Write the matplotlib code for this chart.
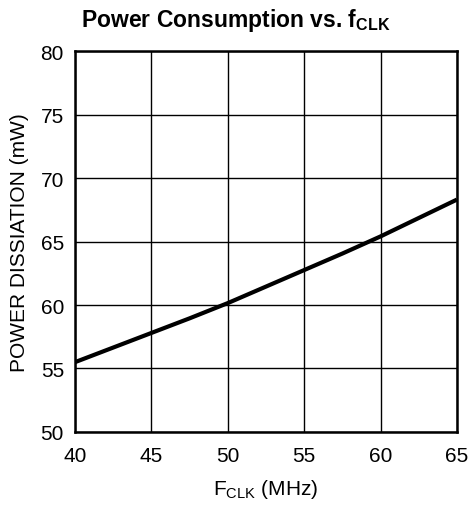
import matplotlib
matplotlib.use("Agg")
import matplotlib.pyplot as plt

plt.rcParams.update({
    "font.family": ["Liberation Sans", "DejaVu Sans"],
    "font.size": 15,
})

# data
f_clk = [40, 42.5, 45, 47.5, 50, 52.5, 55, 57.5, 60, 62.5, 65]
power = [55.5, 56.65, 57.8, 58.95, 60.15, 61.45, 62.75, 64.05, 65.4, 66.85, 68.3]

x_ticks = [40, 45, 50, 55, 60, 65]
y_ticks = [50, 55, 60, 65, 70, 75, 80]

fig = plt.figure(figsize=(4.72, 5.10), dpi=100)
ax = fig.add_axes([0.159, 0.151, 0.809, 0.747])

ax.plot(f_clk, power, color="black", lw=3.0, solid_capstyle="butt", zorder=3)

ax.set_xlim(40, 65)
ax.set_ylim(50, 80)
ax.set_xticks(x_ticks)
ax.set_yticks(y_ticks)
ax.grid(True, color="black", lw=1.0)
ax.tick_params(axis="x", length=0, pad=10, labelsize=15)
ax.tick_params(axis="y", length=0, pad=8, labelsize=15)
for s in ax.spines.values():
    s.set_linewidth(1.8)

ax.set_xlabel(r"F$_{\mathregular{CLK}}$ (MHz)", fontsize=15, labelpad=9)
ax.set_ylabel("POWER DISSIATION (mW)", fontsize=15, labelpad=8)

# title sits centred on the figure, not the axes
fig.text(0.5, 1 - 27 / 510, r"Power Consumption vs. f$_{\mathregular{CLK}}$",
         ha="center", va="baseline", fontsize=16.5, weight="bold")

fig.savefig("out.png", dpi=100)
